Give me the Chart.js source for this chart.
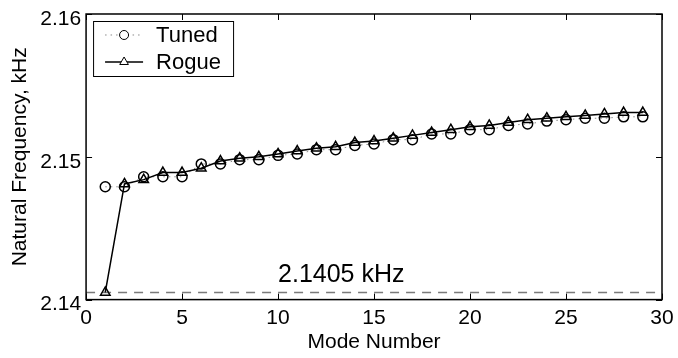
<!DOCTYPE html>
<html>
<head>
<meta charset="utf-8">
<script src="https://cdn.jsdelivr.net/npm/chart.js@4.4.0/dist/chart.umd.min.js"></script>
<style>
  html, body { margin: 0; padding: 0; background: #fff; }
  #wrap { width: 678px; height: 358px; }
</style>
</head>
<body>
<div id="wrap"><canvas id="chart" width="678" height="358"></canvas></div>
<script>
// Data
const modes = [1, 2, 3, 4, 5, 6, 7, 8, 9, 10, 11, 12, 13, 14, 15, 16, 17, 18, 19, 20, 21, 22, 23, 24, 25, 26, 27, 28, 29];
const tuned = [2.1479, 2.1479, 2.1486, 2.1486, 2.1486, 2.1495, 2.1495, 2.1498, 2.1498, 2.1501,
               2.1502, 2.1505, 2.1505, 2.1508, 2.1509, 2.1512, 2.1512, 2.1516, 2.1516, 2.1519,
               2.1519, 2.1522, 2.1523, 2.1525, 2.1526, 2.1527, 2.1527, 2.1528, 2.1528];
const rogue = [2.1405, 2.1481, 2.1484, 2.1489, 2.1489, 2.1492, 2.1497, 2.1499, 2.1500, 2.1502,
               2.1504, 2.1506, 2.1507, 2.1510, 2.1511, 2.1513, 2.1515, 2.1517, 2.1519, 2.1521,
               2.1522, 2.1524, 2.1526, 2.1527, 2.1528, 2.1529, 2.1530, 2.1531, 2.1531];
const refFreq = 2.1405;
const refLabel = "2.1405 kHz";
const refLabelAt = 10;
const xTicks = [0, 5, 10, 15, 20, 25, 30];
const yTicks = [2.14, 2.15, 2.16];

const FONT = "'Liberation Sans', Arial, Helvetica, sans-serif";

function pts(ys) {
    return ys.map((y, i) => ({ x: modes[i], y: y }));
}

// box, inward ticks, legend and the text label
const framePlugin = {
    id: "frame",
    afterDraw(chart) {
        const ctx = chart.ctx;
        const a = chart.chartArea;
        const xs = chart.scales.x, ys = chart.scales.y;
        const tl = 6;
        ctx.save();
        ctx.strokeStyle = "#000";
        ctx.lineWidth = 1.5;
        ctx.strokeRect(a.left, a.top, a.right - a.left, a.bottom - a.top);

        ctx.lineWidth = 1;
        ctx.beginPath();
        xTicks.forEach(v => {
            const px = Math.round(xs.getPixelForValue(v)) + 0.5;
            ctx.moveTo(px, a.bottom); ctx.lineTo(px, a.bottom - tl);
            ctx.moveTo(px, a.top); ctx.lineTo(px, a.top + tl);
        });
        yTicks.forEach(v => {
            const py = Math.round(ys.getPixelForValue(v)) + 0.5;
            ctx.moveTo(a.left, py); ctx.lineTo(a.left + tl, py);
            ctx.moveTo(a.right, py); ctx.lineTo(a.right - tl, py);
        });
        ctx.stroke();

        // text label above the dashed line
        ctx.fillStyle = "#000";
        ctx.font = "25px " + FONT;
        ctx.textAlign = "left";
        ctx.textBaseline = "alphabetic";
        ctx.fillText(refLabel, xs.getPixelForValue(refLabelAt), ys.getPixelForValue(refFreq) - 10);

        // legend
        const lx = a.left + 7, ly = a.top + 7, lw = 140, lh = 55;
        ctx.fillStyle = "#fff";
        ctx.fillRect(lx, ly, lw, lh);
        ctx.lineWidth = 1;
        ctx.strokeStyle = "#000";
        ctx.strokeRect(lx + 0.5, ly + 0.5, lw, lh);
        const items = [chart.data.datasets[0], chart.data.datasets[1]];
        items.forEach((ds, i) => {
            const cy = ly + 14 + i * 27;
            ctx.save();
            ctx.strokeStyle = ds.borderColor;
            ctx.lineWidth = ds.borderWidth;
            ctx.setLineDash(ds.borderDash || []);
            ctx.beginPath();
            ctx.moveTo(lx + 12, cy); ctx.lineTo(lx + 50, cy);
            ctx.stroke();
            ctx.restore();
            ctx.save();
            ctx.strokeStyle = ds.pointBorderColor;
            ctx.fillStyle = "#fff";
            Chart.helpers.drawPoint(ctx, {
                pointStyle: ds.pointStyle, radius: ds.pointRadius - 0.5,
                borderWidth: ds.pointBorderWidth, rotation: 0
            }, lx + 31, cy);
            ctx.restore();
            ctx.fillStyle = "#000";
            ctx.font = "22px " + FONT;
            ctx.textAlign = "left";
            ctx.textBaseline = "middle";
            ctx.fillText(ds.label, lx + 63, cy + 1);
        });
        ctx.restore();
    }
};

document.addEventListener("DOMContentLoaded", () => {
    const ctx = document.getElementById("chart").getContext("2d");
    new Chart(ctx, {
        type: "line",
        data: {
            datasets: [
                {
                    label: "Tuned",
                    data: pts(tuned),
                    borderColor: "#8a8a8a",
                    borderWidth: 1,
                    borderDash: [1.5, 4],
                    pointStyle: "circle",
                    pointRadius: 5,
                    pointBorderWidth: 1.5,
                    pointBorderColor: "#000",
                    pointBackgroundColor: "rgba(0,0,0,0)",
                    fill: false,
                    tension: 0,
                    order: 2
                },
                {
                    label: "Rogue",
                    data: pts(rogue),
                    borderColor: "#000",
                    borderWidth: 1.5,
                    pointStyle: "triangle",
                    pointRadius: 5.5,
                    pointBorderWidth: 1.5,
                    pointBorderColor: "#000",
                    pointBackgroundColor: "rgba(0,0,0,0)",
                    fill: false,
                    tension: 0,
                    order: 1
                },
                {
                    label: "ref",
                    data: [{ x: xTicks[0], y: refFreq }, { x: xTicks[xTicks.length - 1], y: refFreq }],
                    borderColor: "#7a7a7a",
                    borderWidth: 1.5,
                    borderDash: [9, 7],
                    pointRadius: 0,
                    fill: false,
                    order: 3
                }
            ]
        },
        options: {
            responsive: false,
            animation: false,
            events: [],
            layout: { padding: { top: 7.4, right: 16, bottom: 0.6, left: 0 } },
            plugins: {
                legend: { display: false },
                tooltip: { enabled: false }
            },
            scales: {
                x: {
                    type: "linear",
                    min: 0,
                    max: 30,
                    afterBuildTicks: s => { s.ticks = xTicks.map(v => ({ value: v })); },
                    ticks: { color: "#000", font: { family: FONT, size: 21, lineHeight: 1.6 }, padding: 2, maxRotation: 0 },
                    grid: { display: false, drawTicks: false },
                    border: { display: false },
                    title: {
                        display: true, text: "Mode Number", color: "#000",
                        font: { family: FONT, size: 21 }, padding: { top: -8, bottom: 3 }
                    }
                },
                y: {
                    type: "linear",
                    min: 2.14,
                    max: 2.16,
                    afterBuildTicks: s => { s.ticks = yTicks.map(v => ({ value: v })); },
                    ticks: {
                        color: "#000", font: { family: FONT, size: 21, lineHeight: 0.857 }, padding: 5, labelOffset: 5,
                        callback: v => Number(v).toFixed(2)
                    },
                    grid: { display: false, drawTicks: false },
                    border: { display: false },
                    title: {
                        display: true, text: "Natural Frequency, kHz", color: "#000",
                        font: { family: FONT, size: 21 }, padding: { top: 8, bottom: 2 }
                    }
                }
            }
        },
        plugins: [framePlugin]
    });
});
</script>
</body>
</html>
